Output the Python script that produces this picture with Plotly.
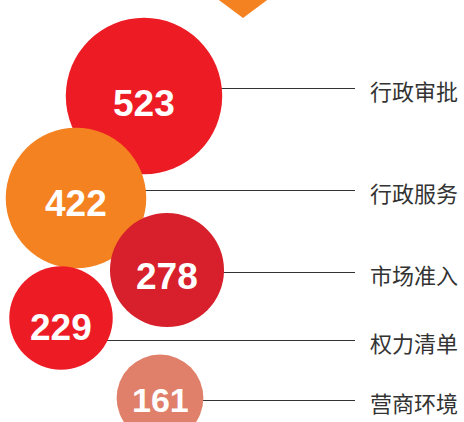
import plotly.graph_objects as go

# ---- data ----
categories = ["行政审批", "行政服务", "市场准入", "权力清单", "营商环境"]
values = [523, 422, 278, 229, 161]

# ---- layout (pixel placement of the packed bubbles and labels) ----
W, H = 464, 422
bubble_x = [144, 76, 167, 61, 160]
bubble_y = [96, 198, 270, 318, 398]
label_y = [88.5, 190.5, 272.5, 340.5, 400.5]
colors = ["#ED1C24", "#F58220", "#D7202B", "#ED1C24", "#E0806A"]
num_font_sizes = [37, 37, 37, 37, 34]
num_yshift = [-7.5, -5, -6, -9, -2]
LINE_END = 355
LABEL_X = 368

# radius in px = K * sqrt(value)  -> plotly area mode: r = sqrt(v/2/sizeref)
K = 3.42
sizeref = 1 / (2 * K * K)

fig = go.Figure()

# leader lines (under the bubbles)
for cx, ly in zip(bubble_x, label_y):
    fig.add_trace(go.Scatter(
        x=[cx, LINE_END], y=[ly, ly], mode="lines",
        line=dict(color="#333333", width=1), hoverinfo="skip", showlegend=False))

# bubbles, later ones drawn on top
for i, v in enumerate(values):
    fig.add_trace(go.Scatter(
        x=[bubble_x[i]], y=[bubble_y[i]], mode="markers",
        marker=dict(size=[v], sizemode="area", sizeref=sizeref,
                    color=colors[i], opacity=1, line=dict(width=0)),
        hoverinfo="skip", showlegend=False, cliponaxis=True))

# number labels
for i, v in enumerate(values):
    fig.add_annotation(x=bubble_x[i], y=bubble_y[i], text=f"<b>{v}</b>",
                       showarrow=False, yshift=num_yshift[i],
                       font=dict(family="Liberation Sans, Arial, sans-serif",
                                 size=num_font_sizes[i], color="white"))

# category labels
for c, ly in zip(categories, label_y):
    fig.add_annotation(x=LABEL_X, y=ly, text=c, showarrow=False,
                       xanchor="left", yanchor="middle", yshift=-1,
                       font=dict(family="Noto Sans CJK SC", size=22, color="#333333"))

# decorative orange diamond peeking in at the top
fig.add_shape(type="path", path="M 200,-14 L 243,18 L 286,-14 Z",
              fillcolor="#F58220", line=dict(width=0), layer="below",
              xref="x", yref="y")

fig.update_layout(
    width=W, height=H, margin=dict(l=0, r=0, t=0, b=0),
    paper_bgcolor="white", plot_bgcolor="white",
    xaxis=dict(range=[0, W], visible=False, fixedrange=True),
    yaxis=dict(range=[H, 0], visible=False, fixedrange=True),
)

fig.write_html("out.html", config={"displayModeBar": False},
               post_script="document.body.style.margin='0';document.body.style.overflow='hidden';")
